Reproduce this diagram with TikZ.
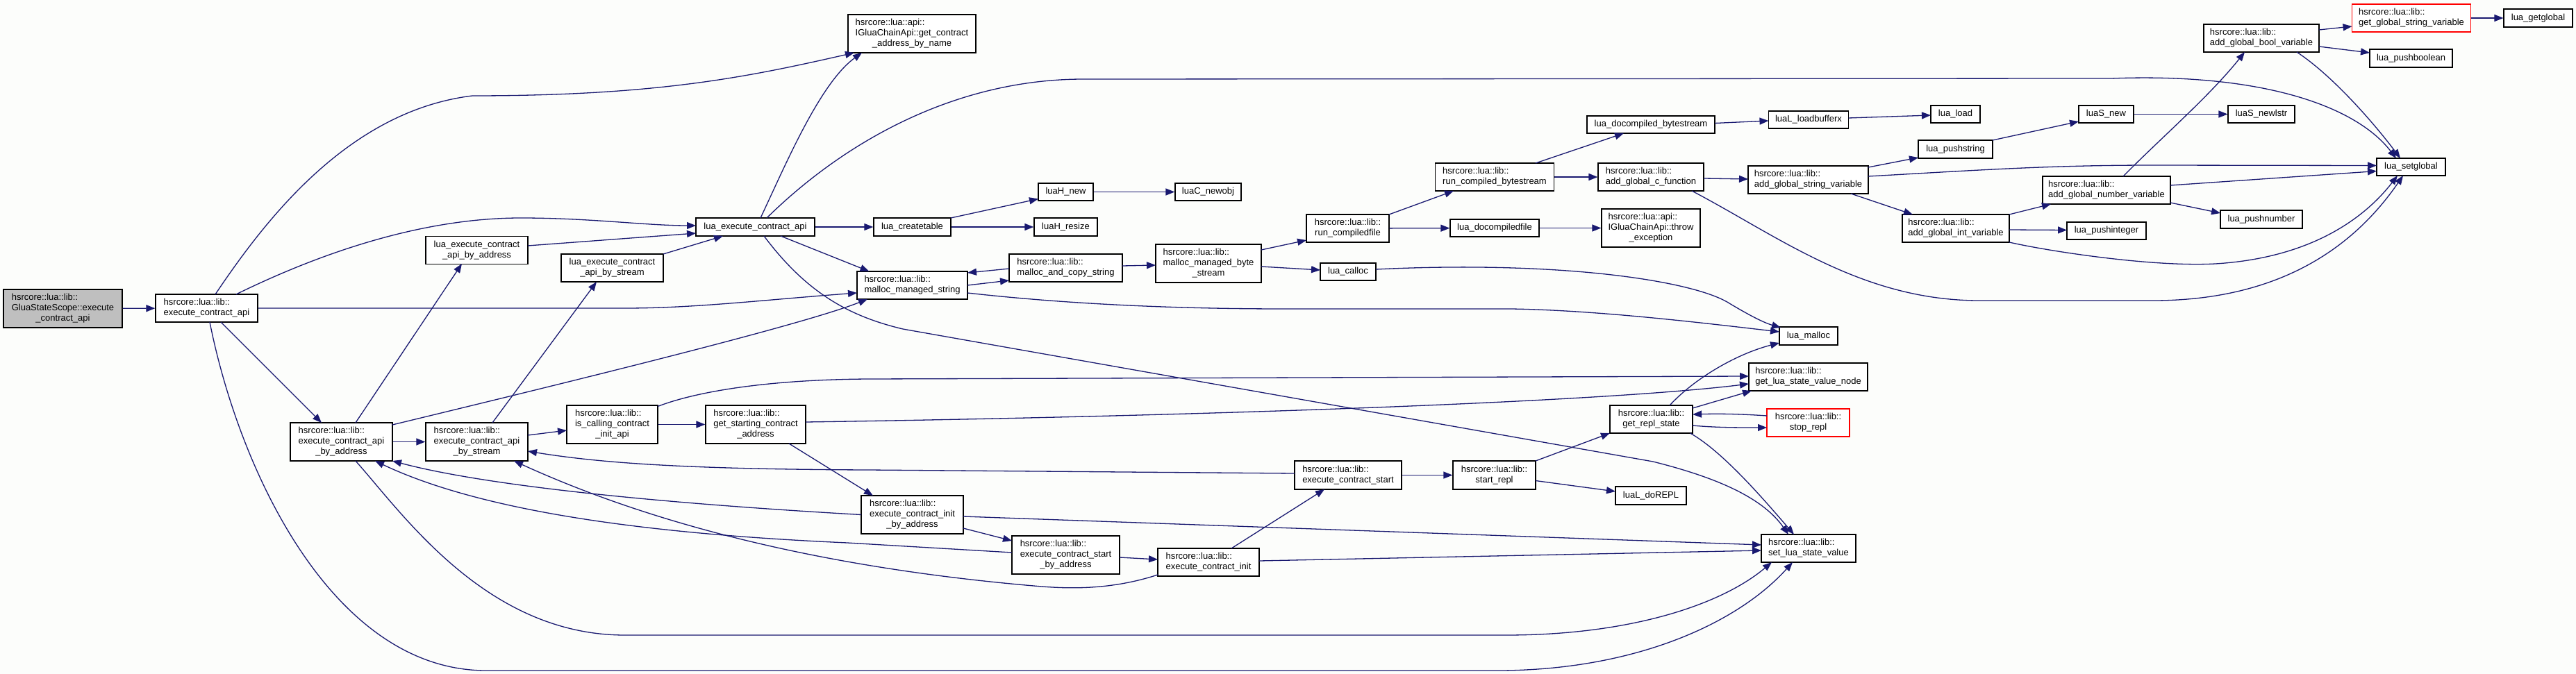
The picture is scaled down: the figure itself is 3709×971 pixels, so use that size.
\documentclass[tikz,border=0pt]{standalone}
\usepackage{fontspec}
\setmainfont{Liberation Sans}
\usetikzlibrary{arrows.meta,calc}
\definecolor{edgecol}{HTML}{191970}
\definecolor{bgcol}{HTML}{FCFDFB}
\definecolor{grayfill}{HTML}{BFBFBF}
\newcommand{\nl}[2]{\begin{tabular}{@{}l@{}}#1\\\multicolumn{1}{@{}c@{}}{#2}\end{tabular}}
\begin{document}
\begin{tikzpicture}[x=1pt,y=-1pt,
  fn/.style={draw=black, line width=1.2pt, fill=white, inner sep=0pt, text=black, font=\fontsize{13}{15}\selectfont},
  redbox/.style={draw=red},
  rootbox/.style={fill=grayfill},
  e/.style={draw=edgecol, line width=1.3pt, -{Triangle[length=13pt,width=10pt]}}]
\fill[bgcol] (0,0) rectangle (3709,971);
\useasboundingbox (0,0) rectangle (3709,971);

% nodes
\node[fn,rootbox,minimum width=171pt,minimum height=55pt] (GSS) at (90.5,444.5) {\nl{hsrcore::lua::lib::\\GluaStateScope::execute}{\_contract\_api}};
\node[fn,minimum width=147pt,minimum height=40pt] (ECA) at (297.5,444) {\nl{hsrcore::lua::lib::}{execute\_contract\_api}};
\node[fn,minimum width=171pt,minimum height=26pt] (LECA) at (1087.5,327) {lua\_execute\_contract\_api};
\node[fn,minimum width=147pt,minimum height=40pt] (LECAA) at (686.5,360.5) {\nl{lua\_execute\_contract}{\_api\_by\_address}};
\node[fn,minimum width=147pt,minimum height=40pt] (LECAS) at (881.5,386) {\nl{lua\_execute\_contract}{\_api\_by\_stream}};
\node[fn,minimum width=184pt,minimum height=55pt] (GCABN) at (1313,48.5) {\nl{hsrcore::lua::api::\\IGluaChainApi::get\_contract}{\_address\_by\_name}};
\node[fn,minimum width=111pt,minimum height=26pt] (LCT) at (1313.5,327) {lua\_createtable};
\node[fn,minimum width=79pt,minimum height=25pt] (LHN) at (1534.5,276.5) {luaH\_new};
\node[fn,minimum width=95pt,minimum height=25pt] (LCN) at (1739.5,276.5) {luaC\_newobj};
\node[fn,minimum width=91pt,minimum height=26pt] (LHR) at (1534.5,327) {luaH\_resize};
\node[fn,minimum width=159pt,minimum height=40pt] (MMS) at (1313.5,411) {\nl{hsrcore::lua::lib::}{malloc\_managed\_string}};
\node[fn,minimum width=163pt,minimum height=40pt] (MACS) at (1534.5,386) {\nl{hsrcore::lua::lib::}{malloc\_and\_copy\_string}};
\node[fn,minimum width=152pt,minimum height=55pt] (MMBS) at (1740,379.5) {\nl{hsrcore::lua::lib::\\malloc\_managed\_byte}{\_stream}};
\node[fn,minimum width=119pt,minimum height=40pt] (RCF) at (1940.5,329) {\nl{hsrcore::lua::lib::}{run\_compiledfile}};
\node[fn,minimum width=171pt,minimum height=40pt] (RCB) at (2152,255) {\nl{hsrcore::lua::lib::}{run\_compiled\_bytestream}};
\node[fn,minimum width=184pt,minimum height=25pt] (LDCB) at (2377,179.5) {lua\_docompiled\_bytestream};
\node[fn,minimum width=152pt,minimum height=40pt] (AGCF) at (2377,255) {\nl{hsrcore::lua::lib::}{add\_global\_c\_function}};
\node[fn,minimum width=128pt,minimum height=25pt] (LDCF) at (2152,328.5) {lua\_docompiledfile};
\node[fn,minimum width=142pt,minimum height=55pt] (THROW) at (2377,328.5) {\nl{hsrcore::lua::api::\\IGluaChainApi::throw}{\_exception}};
\node[fn,minimum width=80pt,minimum height=25pt] (CALLOC) at (1941,391.5) {lua\_calloc};
\node[fn,minimum width=115pt,minimum height=25pt] (LLBX) at (2604,172.5) {luaL\_loadbufferx};
\node[fn,minimum width=71pt,minimum height=25pt] (LLOAD) at (2815.5,164.5) {lua\_load};
\node[fn,minimum width=107pt,minimum height=26pt] (PUSHS) at (2815.5,215) {lua\_pushstring};
\node[fn,minimum width=79pt,minimum height=25pt] (LSNEW) at (3032.5,164.5) {luaS\_new};
\node[fn,minimum width=173pt,minimum height=40pt] (AGSV) at (2603.5,259) {\nl{hsrcore::lua::lib::}{add\_global\_string\_variable}};
\node[fn,minimum width=184pt,minimum height=40pt] (AGNV) at (3033,274) {\nl{hsrcore::lua::lib::}{add\_global\_number\_variable}};
\node[fn,minimum width=154pt,minimum height=40pt] (AGIV) at (2816,329) {\nl{hsrcore::lua::lib::}{add\_global\_int\_variable}};
\node[fn,minimum width=114pt,minimum height=25pt] (PUSHI) at (3033,332.5) {lua\_pushinteger};
\node[fn,minimum width=84pt,minimum height=26pt] (MALLOC) at (2604,484) {lua\_malloc};
\node[fn,minimum width=166pt,minimum height=40pt] (AGBV) at (3256,55) {\nl{hsrcore::lua::lib::}{add\_global\_bool\_variable}};
\node[fn,redbox,minimum width=171pt,minimum height=40pt] (GGSV) at (3472,26) {\nl{hsrcore::lua::lib::}{get\_global\_string\_variable}};
\node[fn,minimum width=99pt,minimum height=26pt] (GETG) at (3654.5,26) {lua\_getglobal};
\node[fn,minimum width=119pt,minimum height=26pt] (PUSHB) at (3471.5,84) {lua\_pushboolean};
\node[fn,minimum width=96pt,minimum height=25pt] (NEWLSTR) at (3256,164.5) {luaS\_newlstr};
\node[fn,minimum width=99pt,minimum height=25pt] (SETG) at (3471.5,240.5) {lua\_setglobal};
\node[fn,minimum width=118pt,minimum height=26pt] (PUSHN) at (3256,316) {lua\_pushnumber};
\node[fn,minimum width=147pt,minimum height=55pt] (ECAA) at (491.5,636.5) {\nl{hsrcore::lua::lib::\\execute\_contract\_api}{\_by\_address}};
\node[fn,minimum width=147pt,minimum height=55pt] (ECAS) at (686.5,636.5) {\nl{hsrcore::lua::lib::\\execute\_contract\_api}{\_by\_stream}};
\node[fn,minimum width=131pt,minimum height=55pt] (ICCIA) at (881.5,611.5) {\nl{hsrcore::lua::lib::\\is\_calling\_contract}{\_init\_api}};
\node[fn,minimum width=144pt,minimum height=55pt] (GSCA) at (1088,611.5) {\nl{hsrcore::lua::lib::\\get\_starting\_contract}{\_address}};
\node[fn,minimum width=147pt,minimum height=55pt] (ECIBA) at (1313.5,741.5) {\nl{hsrcore::lua::lib::\\execute\_contract\_init}{\_by\_address}};
\node[fn,minimum width=155pt,minimum height=55pt] (ECSBA) at (1534.5,799.5) {\nl{hsrcore::lua::lib::\\execute\_contract\_start}{\_by\_address}};
\node[fn,minimum width=146pt,minimum height=40pt] (ECI) at (1740,810) {\nl{hsrcore::lua::lib::}{execute\_contract\_init}};
\node[fn,minimum width=154pt,minimum height=41pt] (ECS) at (1941,684.5) {\nl{hsrcore::lua::lib::}{execute\_contract\_start}};
\node[fn,minimum width=119pt,minimum height=41pt] (SREPL) at (2151.5,684.5) {\nl{hsrcore::lua::lib::}{start\_repl}};
\node[fn,minimum width=119pt,minimum height=40pt] (GRS) at (2377.5,604) {\nl{hsrcore::lua::lib::}{get\_repl\_state}};
\node[fn,minimum width=102pt,minimum height=26pt] (DOREPL) at (2377,714) {luaL\_doREPL};
\node[fn,minimum width=171pt,minimum height=40pt] (GLSVN) at (2603.5,543) {\nl{hsrcore::lua::lib::}{get\_lua\_state\_value\_node}};
\node[fn,redbox,minimum width=119pt,minimum height=40pt] (STOP) at (2603.5,609) {\nl{hsrcore::lua::lib::}{stop\_repl}};
\node[fn,minimum width=136pt,minimum height=40pt] (SLSV) at (2604,790) {\nl{hsrcore::lua::lib::}{set\_lua\_state\_value}};

% edges: upper part
\draw[e] (GSS) -- (ECA);
\draw[e] ($(ECA)+(12.5,-20)$) .. controls (380,320) and (500,160) .. (680,138) .. controls (950,138) and (1080,110) .. ($(GCABN)+(-83,27.5)$);
\draw[e] ($(ECA)+(42.5,-20)$) .. controls (450,370) and (600,314) .. (750,314) .. controls (850,314) and (930,325) .. ($(LECA)+(-85.5,-2)$);
\draw[e] (ECA.east) -- (900,444) .. controls (1000,444) and (1100,432) .. ($(MMS)+(-79.5,11)$);
\draw[e] ($(ECA)+(20.5,20)$) -- ($(ECAA)+(-28.5,-27.5)$);
\draw[e] ($(ECA)+(4.5,20)$) .. controls (345,680) and (480,966) .. (700,966) -- (2156,966) .. controls (2350,966) and (2500,900) .. ($(SLSV)+(-23,20)$);
\draw[e] ($(LECA)+(7.5,-13)$) .. controls (1130,240) and (1180,120) .. ($(GCABN)+(-72,27.5)$);
\draw[e] (LECA) -- (LCT);
\draw[e] ($(LECA)+(36.5,13)$) -- ($(MMS)+(-62,-20)$);
\draw[e] ($(LECA)+(12.5,13)$) .. controls (1160,420) and (1220,455) .. (1300,474) -- (2380,665) .. controls (2480,690) and (2540,720) .. ($(SLSV)+(-29,-20)$);
\draw[e] ($(LECA)+(16.5,-13)$) .. controls (1220,200) and (1380,114) .. (1560,114) -- (3040,113) .. controls (3250,105) and (3390,150) .. ($(SETG)+(-21.5,-12.5)$);
\draw[e] ($(LECAA)+(73.5,-6.5)$) -- ($(LECA)+(-85.5,9)$);
\draw[e] ($(LECAS)+(73.5,-20)$) -- ($(LECA)+(-46.5,13)$);
\draw[e] ($(LCT)+(55.5,-13)$) -- ($(LHN)+(-39.5,10)$);
\draw[e] (LCT) -- (LHR);
\draw[e] (LHN) -- (LCN);
\draw[e] ($(MMS)+(79.5,0)$) -- ($(MACS)+(-81.5,18)$);
\draw[e] ($(MACS)+(-81.5,1)$) -- ($(MMS)+(79.5,-18)$);
\draw[e] ($(MMS)+(79.5,11)$) .. controls (1500,434) and (1650,445) .. (1850,445) -- (2176,445) .. controls (2300,447) and (2450,465) .. ($(MALLOC)+(-42,-6)$);
\draw[e] ($(MACS)+(81.5,-3)$) -- ($(MMBS)+(-76,2.5)$);
\draw[e] ($(MMBS)+(76,-19.5)$) -- ($(RCF)+(-59.5,17)$);
\draw[e] ($(MMBS)+(76,4.5)$) -- ($(CALLOC)+(-40,-2.5)$);
\draw[e] ($(CALLOC)+(40,-3.5)$) .. controls (2250,375) and (2440,405) .. (2490,437) .. controls (2520,455) and (2540,465) .. ($(MALLOC)+(-40,-12)$);
\draw[e] ($(RCF)+(59.5,-20)$) -- ($(RCB)+(-59,20)$);
\draw[e] (RCF) -- (LDCF);
\draw[e] ($(RCB)+(59,-20)$) -- ($(LDCB)+(-39,12.5)$);
\draw[e] (RCB) -- (AGCF);
\draw[e] (LDCF) -- (THROW);
\draw[e] ($(LDCB)+(92,-2)$) -- ($(LLBX)+(-57.5,1.5)$);
\draw[e] ($(LLBX)+(57.5,-2.5)$) -- ($(LLOAD)+(-35.5,1.5)$);
\draw[e] ($(AGCF)+(76,2)$) -- ($(AGSV)+(-86.5,-1)$);
\draw[e] ($(AGCF)+(59,20)$) .. controls (2560,340) and (2680,433) .. (2850,433) -- (3100,433) .. controls (3300,433) and (3400,340) .. ($(SETG)+(-11.5,12.5)$);
\draw[e] ($(AGSV)+(86.5,-18)$) -- ($(PUSHS)+(-53.5,12)$);
\draw[e] ($(AGSV)+(86.5,-5)$) .. controls (2850,245) and (2950,238) .. (3100,238) -- ($(SETG)+(-49.5,-2)$);
\draw[e] ($(AGSV)+(61.5,20)$) -- ($(AGIV)+(-62,-20)$);
\draw[e] ($(PUSHS)+(53.5,-13)$) -- ($(LSNEW)+(-39.5,10.5)$);
\draw[e] (LSNEW) -- (NEWLSTR);
\draw[e] ($(AGIV)+(77,-20)$) -- ($(AGNV)+(-80,20)$);
\draw[e] ($(AGIV)+(77,2)$) -- ($(PUSHI)+(-57,-1)$);
\draw[e] ($(AGIV)+(77,20)$) .. controls (2950,362) and (3100,385) .. (3190,380) .. controls (3320,372) and (3400,320) .. ($(SETG)+(-19.5,12.5)$);
\draw[e] ($(AGNV)+(24,-20)$) .. controls (3110,200) and (3180,140) .. ($(AGBV)+(-24,20)$);
\draw[e] ($(AGNV)+(92,-7)$) -- ($(SETG)+(-49.5,6)$);
\draw[e] ($(AGNV)+(92,18)$) -- ($(PUSHN)+(-59,-9)$);
\draw[e] ($(AGBV)+(83,-12)$) -- ($(GGSV)+(-85.5,12)$);
\draw[e] ($(AGBV)+(83,12)$) -- ($(PUSHB)+(-59.5,-8)$);
\draw[e] ($(AGBV)+(51,20)$) .. controls (3360,110) and (3420,180) .. ($(SETG)+(-15.5,-12.5)$);
\draw[e] (GGSV) -- (GETG);

% edges: lower part
\draw[e] ($(ECAA)+(20.5,-27.5)$) -- ($(LECAA)+(-21.5,19.5)$);
\draw[e] (ECAA) -- (ECAS);
\draw[e] ($(ECAA)+(73.5,-24.5)$) .. controls (800,555) and (1150,470) .. ($(MMS)+(-64.5,20)$);
\draw[e] ($(ECAA)+(20.5,27.5)$) .. controls (580,740) and (700,915) .. (900,915) -- (2168,915) .. controls (2350,915) and (2480,870) .. ($(SLSV)+(-53,20)$);
\draw[e] ($(ECAS)+(22.5,-27.5)$) -- ($(LECAS)+(-22.5,20)$);
\draw[e] ($(ECAS)+(73.5,-9.5)$) -- ($(ICCIA)+(-65.5,8.5)$);
\draw[e] (ICCIA) -- (GSCA);
\draw[e] ($(ICCIA)+(65.5,-26)$) .. controls (1000,565) and (1100,547) .. (1250,546) -- ($(GLSVN)+(-85.5,-1)$);
\draw[e] ($(GSCA)+(72,-3.5)$) .. controls (1700,600) and (2300,580) .. ($(GLSVN)+(-85.5,10)$);
\draw[e] ($(GSCA)+(48,27.5)$) -- ($(ECIBA)+(-56.5,-27.5)$);
\draw[e] ($(ECS)+(-77,-2.5)$) -- (1250,677) .. controls (1000,676) and (870,668) .. ($(ECAS)+(73.5,13.5)$);
\draw[e] ($(ECIBA)+(-73.5,0)$) .. controls (950,725) and (700,700) .. ($(ECAA)+(73.5,27.5)$);
\draw[e] ($(ECSBA)+(-77.5,-3.5)$) -- (1220,782) .. controls (950,770) and (700,740) .. ($(ECAA)+(48.5,27.5)$);
\draw[e] ($(ECI)+(-73,18)$) .. controls (1600,850) and (1540,848) .. (1500,845) .. controls (1200,820) and (950,760) .. ($(ECAS)+(53.5,27.5)$);
\draw[e] ($(ECIBA)+(73.5,2.5)$) -- ($(SLSV)+(-68,-5)$);
\draw[e] ($(ECIBA)+(73.5,19.5)$) -- ($(ECSBA)+(-77.5,-20.5)$);
\draw[e] ($(ECSBA)+(77.5,3.5)$) -- ($(ECI)+(-73,-4)$);
\draw[e] ($(ECI)+(33,-20)$) -- ($(ECS)+(-34,20.5)$);
\draw[e] ($(ECI)+(73,-2)$) -- ($(SLSV)+(-68,3)$);
\draw[e] (ECS) -- (SREPL);
\draw[e] ($(SREPL)+(59.5,-20.5)$) -- ($(GRS)+(-59.5,20)$);
\draw[e] ($(SREPL)+(59.5,8)$) -- ($(DOREPL)+(-51,-6)$);
\draw[e] ($(GRS)+(26.5,-20)$) .. controls (2440,545) and (2500,510) .. ($(MALLOC)+(-42,10)$);
\draw[e] ($(GRS)+(59.5,-16)$) -- ($(GLSVN)+(-81.5,20)$);
\draw[e] ($(STOP)+(-59.5,-10)$) .. controls (2500,596) and (2470,596) .. ($(GRS)+(59.5,-7)$);
\draw[e] ($(GRS)+(59.5,9)$) .. controls (2470,616) and (2500,616) .. ($(STOP)+(-59.5,7)$);
\draw[e] ($(GRS)+(56,20)$) .. controls (2480,650) and (2540,720) .. ($(SLSV)+(-21,-20)$);
\end{tikzpicture}
\end{document}
